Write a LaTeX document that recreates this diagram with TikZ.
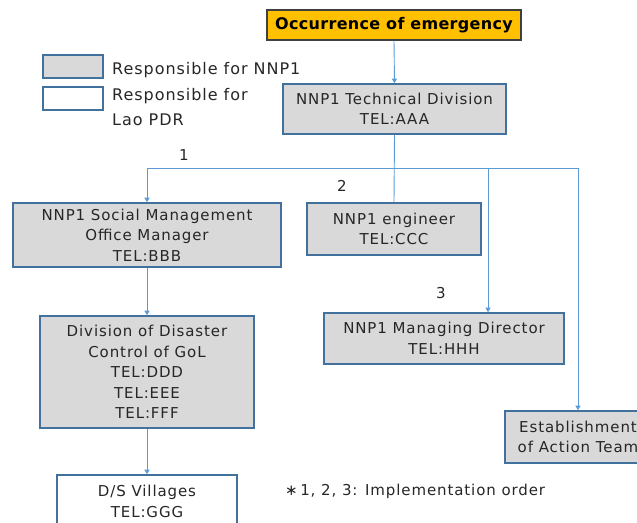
\documentclass[tikz,border=0pt]{standalone}
\usepackage{fontspec}
\setmainfont{DejaVu Sans}[LetterSpace=6]
\usetikzlibrary{arrows.meta}
\definecolor{boxfill}{HTML}{D9D9D9}
\definecolor{boxline}{HTML}{41719C}
\definecolor{connc}{HTML}{5B9BD5}
\definecolor{occfill}{HTML}{FFC000}
\definecolor{txt}{HTML}{262626}
\begin{document}
\begin{tikzpicture}[x=1pt,y=1pt,
  font=\fontsize{15}{20.5}\selectfont,
  box/.style={draw=boxline, line width=1.6pt, fill=boxfill, align=center, inner sep=0pt, text=txt},
  wbox/.style={box, fill=white},
  conn/.style={draw=connc, line width=0.9pt},
  arr/.style={conn, -{Triangle[width=5pt,length=4.5pt]}},
  lbl/.style={text=txt, inner sep=0pt}]
\useasboundingbox (0,0) rectangle (637,-522);
% legend
\node[box, minimum width=60pt, minimum height=23pt] (lg1) at (73,-66.5) {};
\node[wbox, minimum width=60pt, minimum height=23pt] (lg2) at (73,-98.5) {};
\node[lbl, anchor=west, font=\fontsize{16}{24.5}\selectfont] (lt1) at (112,-70) {Responsible for NNP1};
\node[lbl, anchor=west, align=left, font=\fontsize{16}{24.5}\selectfont] (lt2) at (112,-107) {Responsible for\\Lao PDR};
% boxes
\node[box, fill=occfill, draw=black!75, line width=1.2pt, text=black, minimum width=254pt, minimum height=30pt, font=\fontsize{16}{18}\selectfont\bfseries\addfontfeatures{LetterSpace=2}] (occ) at (394,-25) {Occurrence of emergency};
\node[box, minimum width=223pt, minimum height=50pt] (tech) at (394.5,-109) {NNP1 Technical Division\\TEL:AAA};
\node[box, minimum width=268pt, minimum height=64pt] (soc) at (147,-235) {NNP1 Social Management\\Office Manager\\TEL:BBB};
\node[box, minimum width=174pt, minimum height=52pt] (eng) at (394,-229) {NNP1 engineer\\TEL:CCC};
\node[box, minimum width=240pt, minimum height=51pt] (md) at (444,-338.5) {NNP1 Managing Director\\TEL:HHH};
\node[box, minimum width=214pt, minimum height=112pt] (div) at (147,-372) {Division of Disaster\\Control of GoL\\TEL:DDD\\TEL:EEE\\TEL:FFF};
\node[wbox, minimum width=180pt, minimum height=53pt] (ds) at (147,-501.5) {D/S Villages\\TEL:GGG};
\node[box, minimum width=146pt, minimum height=52pt] (act) at (578,-437) {Establishment\\of Action Team};
% labels
\node[lbl] (n1) at (184,-155) {1};
\node[lbl] (n2) at (342,-186) {2};
\node[lbl] (n3) at (441,-293) {3};
\node[lbl, anchor=west] (note) at (285,-491) {∗\,1, 2, 3: Implementation order};
% connectors
\coordinate (j) at (394,-168);
\coordinate (j2) at (488,-168);
\draw[arr] (occ.south) -- (tech.north);
\draw[conn] (tech.south) -- (eng.north);
\draw[arr] (j) -| (soc.north);
\draw[arr] (j) -| ([xshift=44pt]md.north);
\draw[arr] (j2) -| (act.north);
\draw[arr] (soc.south) -- (div.north);
\draw[arr] (div.south) -- (ds.north);
\end{tikzpicture}
\end{document}
